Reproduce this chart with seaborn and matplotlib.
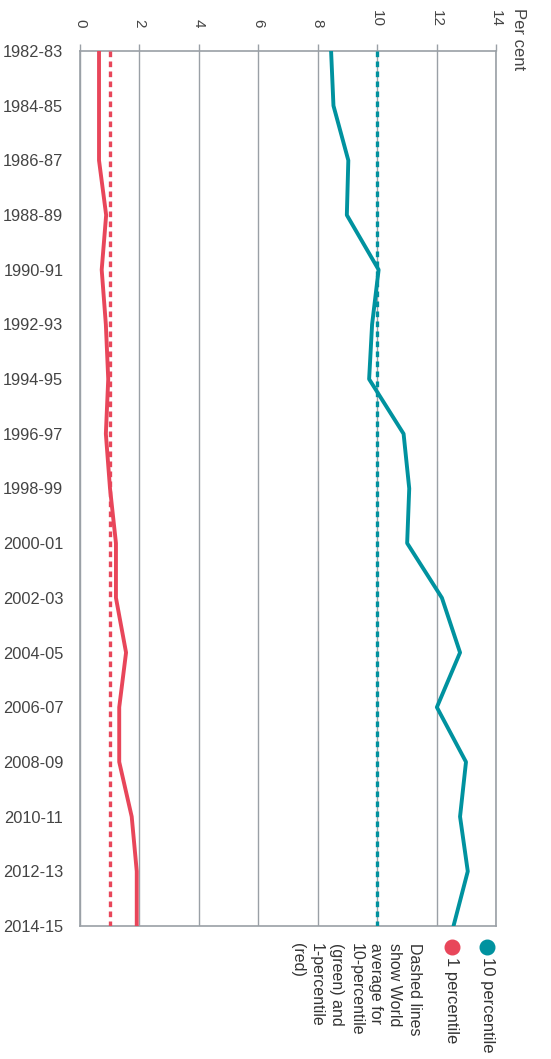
import matplotlib
matplotlib.use("Agg")
import matplotlib.pyplot as plt
from matplotlib.lines import Line2D
import pandas as pd
import seaborn as sns

# Data
years = ["1982-83", "1984-85", "1986-87", "1988-89", "1990-91", "1992-93",
         "1994-95", "1996-97", "1998-99", "2000-01", "2002-03", "2004-05",
         "2006-07", "2008-09", "2010-11", "2012-13", "2014-15"]
p10 = [8.45, 8.53, 9.03, 8.98, 10.05, 9.83, 9.73, 10.89, 11.08, 11.01,
       12.18, 12.79, 12.01, 12.99, 12.79, 13.05, 12.57]
p1 = [0.64, 0.64, 0.64, 0.88, 0.73, 0.87, 0.95, 0.87, 1.01, 1.21,
      1.21, 1.55, 1.32, 1.32, 1.74, 1.91, 1.91]
world_p10 = [10.0] * len(years)
world_p1 = [1.02] * len(years)
value_ticks = [0, 2, 4, 6, 8, 10, 12, 14]

TEAL = "#00929F"
RED = "#E8465A"
GRID = "#9AA0A6"
TEXT = "#444444"

df = pd.DataFrame({"pos": range(len(years)), "p10": p10, "p1": p1,
                   "w10": world_p10, "w1": world_p1})

sns.set_style("white")
plt.rcParams["font.family"] = ["Liberation Sans", "DejaVu Sans"]

fig = plt.figure(figsize=(5.51, 10.59), dpi=100)
ax = fig.add_axes([80 / 551, 1 - 926 / 1059, 416 / 551, 875 / 1059])

dash = (0, (1.7, 1.3))
sns.lineplot(data=df, x="w1", y="pos", orient="y", sort=False, estimator=None,
             color=RED, linewidth=2.4, linestyle=dash, ax=ax, zorder=3)
sns.lineplot(data=df, x="w10", y="pos", orient="y", sort=False, estimator=None,
             color=TEAL, linewidth=2.4, linestyle=dash, ax=ax, zorder=3)
sns.lineplot(data=df, x="p1", y="pos", orient="y", sort=False, estimator=None,
             color=RED, linewidth=2.8, ax=ax, zorder=4)
sns.lineplot(data=df, x="p10", y="pos", orient="y", sort=False, estimator=None,
             color=TEAL, linewidth=2.8, ax=ax, zorder=4)

ax.set_xlim(0, 14)
ax.set_ylim(len(years) - 1, 0)
ax.set_xticks(value_ticks)
ax.set_yticks(range(len(years)))
ax.set_yticklabels(years)
ax.set_xlabel("")
ax.set_ylabel("")

ax.xaxis.tick_top()
ax.grid(axis="x", color=GRID, linewidth=1)
ax.grid(axis="y", visible=False)
for side in ["left", "right", "top", "bottom"]:
    ax.spines[side].set_color(GRID)
    ax.spines[side].set_linewidth(1.2)
ax.tick_params(axis="y", length=5, width=1, color=GRID, pad=7,
               labelsize=11.8, labelcolor=TEXT)
ax.tick_params(axis="x", length=5, width=1, color=GRID, pad=12,
               labelsize=11, labelcolor=TEXT)
for lbl in ax.get_xticklabels():
    lbl.set_rotation(270)

# "Per cent" axis title, anchored at its start then turned to read downwards
ax.annotate("Per cent", xy=(519, 1059 - 8), xycoords="figure pixels",
            rotation=270, rotation_mode="anchor", ha="left", va="center",
            fontsize=12, color=TEXT, annotation_clip=False)

# Rotated legend
for xc, col, lab in [(487, TEAL, "10 percentile"), (452, RED, "1 percentile")]:
    fig.add_artist(Line2D([xc / 551], [1 - 947 / 1059], marker="o",
                          markersize=10.5, color=col, linestyle="none",
                          transform=fig.transFigure))
    fig.text(xc / 551, 1 - 957 / 1059, lab, rotation=270, ha="center",
             va="top", fontsize=12, color="#333333")

note = ("Dashed lines\nshow World\naverage for\n10-percentile\n"
        "(green) and\n1-percentile\n(red)")
fig.text(422 / 551, 1 - 943 / 1059, note, rotation=270, ha="right", va="top",
         multialignment="left", fontsize=11.5, color="#333333",
         linespacing=1.38)

fig.savefig("out.png", dpi=100)
